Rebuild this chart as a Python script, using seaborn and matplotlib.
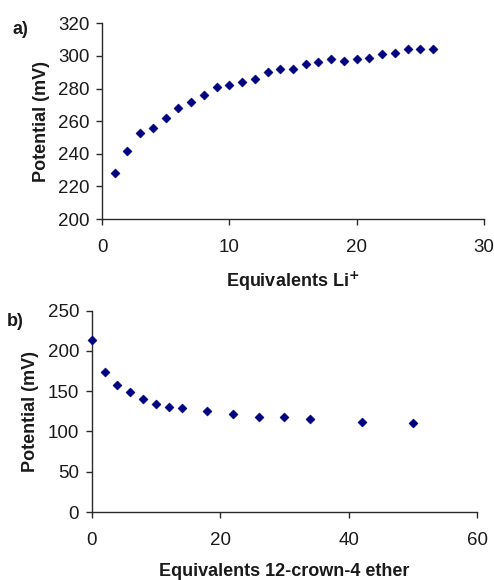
import matplotlib
matplotlib.use("Agg")
import matplotlib.pyplot as plt
import seaborn as sns
import pandas as pd

# Panel a data
li_equiv = [1, 2, 3, 4, 5, 6, 7, 8, 9, 10, 11, 12, 13, 14, 15, 16, 17, 18, 19, 20,
            21, 22, 23, 24, 25, 26]
li_potential = [228, 242, 253, 256, 262, 268, 272, 276, 281, 282, 284, 286, 290, 292,
                292, 295, 296, 298, 297, 298, 299, 301, 302, 304, 304, 304]

# Panel b data
crown_equiv = [0, 2, 4, 6, 8, 10, 12, 14, 18, 22, 26, 30, 34, 42, 50]
crown_potential = [214, 174, 158, 149, 140, 134, 130, 129, 125, 122, 118, 118, 115, 112, 110]

a_xticks = [0, 10, 20, 30]
a_yticks = [200, 220, 240, 260, 280, 300, 320]
b_xticks = [0, 20, 40, 60]
b_yticks = [0, 50, 100, 150, 200, 250]

sns.set_theme(style="white")
plt.rcParams['font.family'] = ['Liberation Sans', 'DejaVu Sans']

COLOR = "#000080"
AX_COLOR = "#2a2a2a"
TXT = "#1a1a1a"
TICK_FS = 13.5
LABEL_FS = 13

fig = plt.figure(figsize=(4.94, 5.80), dpi=100)
ax1 = fig.add_axes([0.2065, 0.6224, 0.7733, 0.3374])
ax2 = fig.add_axes([0.1856, 0.1172, 0.7806, 0.3471])

df_a = pd.DataFrame({"x": li_equiv, "y": li_potential})
df_b = pd.DataFrame({"x": crown_equiv, "y": crown_potential})

for ax, df, xt, yt in [(ax1, df_a, a_xticks, a_yticks), (ax2, df_b, b_xticks, b_yticks)]:
    sns.scatterplot(data=df, x="x", y="y", ax=ax, marker="D", s=22, color=COLOR,
                    edgecolor=COLOR, linewidth=0.3, clip_on=False, zorder=3)
    ax.set_xlim(xt[0], xt[-1])
    ax.set_ylim(yt[0], yt[-1])
    ax.set_xticks(xt)
    ax.set_yticks(yt)
    ax.set_xticklabels([str(v) for v in xt], fontsize=TICK_FS, color=TXT)
    ax.set_yticklabels([str(v) for v in yt], fontsize=TICK_FS, color=TXT)
    for s in ["top", "right"]:
        ax.spines[s].set_visible(False)
    for s in ["left", "bottom"]:
        ax.spines[s].set_color(AX_COLOR)
        ax.spines[s].set_linewidth(1.0)
    ax.tick_params(axis="both", direction="out", length=4, width=1.0, color=AX_COLOR,
                   left=True, bottom=True)
    ax.tick_params(axis="x", pad=10.5)
    ax.tick_params(axis="y", pad=5)
    ax.grid(False)
    ax.set_facecolor("white")

ax1.set_xlabel("Equivalents Li$^{\\mathbf{+}}$", fontsize=LABEL_FS, fontweight="bold",
               labelpad=10, color=TXT)
ax1.set_ylabel("Potential (mV)", fontsize=LABEL_FS, fontweight="bold", labelpad=6,
               color=TXT)
ax2.set_xlabel("Equivalents 12-crown-4 ether", fontsize=LABEL_FS, fontweight="bold",
               labelpad=10, color=TXT)
ax2.set_ylabel("Potential (mV)", fontsize=LABEL_FS, fontweight="bold", labelpad=6,
               color=TXT)

fig.text(20 / 494, 1 - 29 / 580, "a)", fontsize=13, fontweight="bold", ha="center",
         va="center", color=TXT)
fig.text(15 / 494, 1 - 321 / 580, "b)", fontsize=13, fontweight="bold", ha="center",
         va="center", color=TXT)

fig.savefig("out.png", dpi=100, facecolor="white")
